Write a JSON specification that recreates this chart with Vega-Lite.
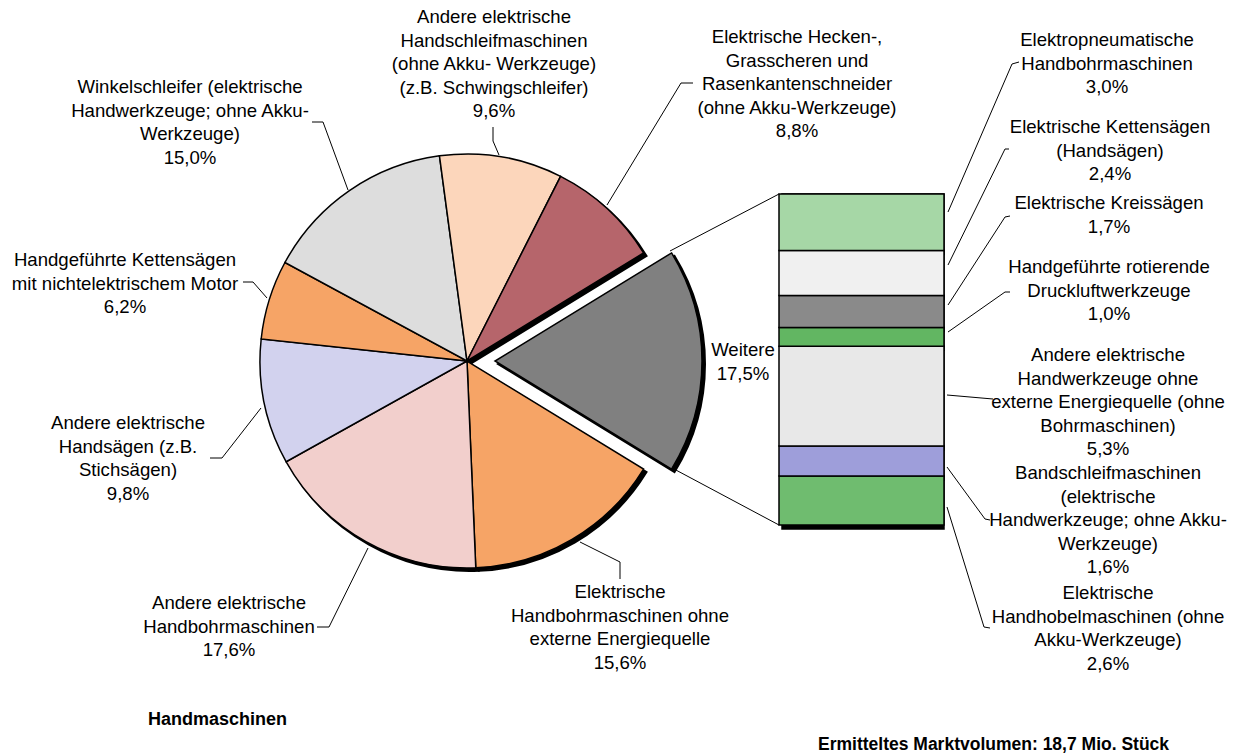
{
  "$schema": "https://vega.github.io/schema/vega-lite/v6.json",
  "width": 1241,
  "height": 755,
  "padding": 0,
  "autosize": {"type": "fit", "contains": "padding"},
  "background": "white",
  "config": {
    "view": {"stroke": null},
    "font": "Liberation Sans",
    "text": {"font": "Liberation Sans", "fontSize": 18.6, "lineHeight": 23.5, "lineBreak": "\n", "align": "center", "baseline": "middle", "color": "black"},
    "rule": {"color": "black", "strokeWidth": 1},
    "arc": {"stroke": "black", "strokeWidth": 1.5}
  },
  "datasets": {
    "pie": [
      {"id": "p1", "name": "Weitere", "value": 17.5, "order": 1, "label": "Weitere\n17,5%"},
      {"id": "p2", "name": "Elektrische Handbohrmaschinen ohne externe Energiequelle", "value": 15.6, "order": 2, "label": "Elektrische\nHandbohrmaschinen ohne\nexterne Energiequelle\n15,6%"},
      {"id": "p3", "name": "Andere elektrische Handbohrmaschinen", "value": 17.6, "order": 3, "label": "Andere elektrische\nHandbohrmaschinen\n17,6%"},
      {"id": "p4", "name": "Andere elektrische Handsägen (z.B. Stichsägen)", "value": 9.8, "order": 4, "label": "Andere elektrische\nHandsägen (z.B.\nStichsägen)\n9,8%"},
      {"id": "p5", "name": "Handgeführte Kettensägen mit nichtelektrischem Motor", "value": 6.2, "order": 5, "label": "Handgeführte Kettensägen\nmit nichtelektrischem Motor\n6,2%"},
      {"id": "p6", "name": "Winkelschleifer (elektrische Handwerkzeuge; ohne Akku-Werkzeuge)", "value": 15.0, "order": 6, "label": "Winkelschleifer (elektrische\nHandwerkzeuge; ohne Akku-\nWerkzeuge)\n15,0%"},
      {"id": "p7", "name": "Andere elektrische Handschleifmaschinen (ohne Akku- Werkzeuge) (z.B. Schwingschleifer)", "value": 9.6, "order": 7, "label": "Andere elektrische\nHandschleifmaschinen\n(ohne Akku- Werkzeuge)\n(z.B. Schwingschleifer)\n9,6%"},
      {"id": "p8", "name": "Elektrische Hecken-, Grasscheren und Rasenkantenschneider (ohne Akku-Werkzeuge)", "value": 8.8, "order": 8, "label": "Elektrische Hecken-,\nGrasscheren und\nRasenkantenschneider\n(ohne Akku-Werkzeuge)\n8,8%"}
    ],
    "bar": [
      {"id": "b1", "name": "Elektrische Handhobelmaschinen (ohne Akku-Werkzeuge)", "value": 2.6, "order": 1, "label": "Elektrische\nHandhobelmaschinen (ohne\nAkku-Werkzeuge)\n2,6%"},
      {"id": "b2", "name": "Bandschleifmaschinen (elektrische Handwerkzeuge; ohne Akku-Werkzeuge)", "value": 1.6, "order": 2, "label": "Bandschleifmaschinen\n(elektrische\nHandwerkzeuge; ohne Akku-\nWerkzeuge)\n1,6%"},
      {"id": "b3", "name": "Andere elektrische Handwerkzeuge ohne externe Energiequelle (ohne Bohrmaschinen)", "value": 5.3, "order": 3, "label": "Andere elektrische\nHandwerkzeuge ohne\nexterne Energiequelle (ohne\nBohrmaschinen)\n5,3%"},
      {"id": "b4", "name": "Handgeführte rotierende Druckluftwerkzeuge", "value": 1.0, "order": 4, "label": "Handgeführte rotierende\nDruckluftwerkzeuge\n1,0%"},
      {"id": "b5", "name": "Elektrische Kreissägen", "value": 1.7, "order": 5, "label": "Elektrische Kreissägen\n1,7%"},
      {"id": "b6", "name": "Elektrische Kettensägen (Handsägen)", "value": 2.4, "order": 6, "label": "Elektrische Kettensägen\n(Handsägen)\n2,4%"},
      {"id": "b7", "name": "Elektropneumatische Handbohrmaschinen", "value": 3.0, "order": 7, "label": "Elektropneumatische\nHandbohrmaschinen\n3,0%"}
    ]
  },
  "resolve": {"scale": {"y": "independent", "color": "independent"}},
  "layer": [
    {
      "data": {"values": [{}]},
      "layer": [
        {
          "data": {"name": "pie"},
          "transform": [
            {"stack": "value", "groupby": [], "sort": [{"field": "order", "order": "ascending"}], "as": ["t0", "t1"]},
            {"filter": "datum.id !== 'p1'"}
          ],
          "mark": {"type": "arc", "outerRadius": 207, "fill": "black", "stroke": "black", "strokeWidth": 2},
          "encoding": {
            "theta": {"field": "t0", "type": "quantitative", "scale": {"domain": [0, 100.1], "range": [1.02155, 7.30474]}},
            "theta2": {"field": "t1"},
            "x": {"datum": 470, "type": "quantitative", "scale": {"domain": [0, 1241], "nice": false, "zero": false}, "axis": null},
            "y": {"datum": 364, "type": "quantitative", "scale": {"domain": [0, 755], "nice": false, "zero": false, "reverse": true}, "axis": null}
          }
        },
        {
          "data": {"name": "pie"},
          "transform": [
            {"stack": "value", "groupby": [], "sort": [{"field": "order", "order": "ascending"}], "as": ["t0", "t1"]},
            {"filter": "datum.id !== 'p1'"}
          ],
          "mark": {"type": "arc", "outerRadius": 207},
          "encoding": {
            "theta": {"field": "t0", "type": "quantitative", "scale": {"domain": [0, 100.1], "range": [1.02155, 7.30474]}},
            "theta2": {"field": "t1"},
            "x": {"datum": 467, "type": "quantitative", "scale": {"domain": [0, 1241], "nice": false, "zero": false}, "axis": null},
            "y": {"datum": 361, "type": "quantitative", "scale": {"domain": [0, 755], "nice": false, "zero": false, "reverse": true}, "axis": null},
            "color": {"field": "id", "type": "nominal", "legend": null, "scale": {"domain": ["p1", "p2", "p3", "p4", "p5", "p6", "p7", "p8"], "range": ["#808080", "#F6A466", "#F2CFCC", "#D2D2EE", "#F6A466", "#DDDDDD", "#FCD6BB", "#B6656B"]}}
          }
        },
        {
          "data": {"name": "pie"},
          "transform": [
            {"stack": "value", "groupby": [], "sort": [{"field": "order", "order": "ascending"}], "as": ["t0", "t1"]},
            {"filter": "datum.id === 'p1'"}
          ],
          "mark": {"type": "arc", "outerRadius": 207, "fill": "black", "stroke": "black", "strokeWidth": 2},
          "encoding": {
            "theta": {"field": "t0", "type": "quantitative", "scale": {"domain": [0, 100.1], "range": [1.02155, 7.30474]}},
            "theta2": {"field": "t1"},
            "x": {"datum": 498, "type": "quantitative", "scale": {"domain": [0, 1241], "nice": false, "zero": false}, "axis": null},
            "y": {"datum": 364, "type": "quantitative", "scale": {"domain": [0, 755], "nice": false, "zero": false, "reverse": true}, "axis": null}
          }
        },
        {
          "data": {"name": "pie"},
          "transform": [
            {"stack": "value", "groupby": [], "sort": [{"field": "order", "order": "ascending"}], "as": ["t0", "t1"]},
            {"filter": "datum.id === 'p1'"}
          ],
          "mark": {"type": "arc", "outerRadius": 207, "fill": "#808080"},
          "encoding": {
            "theta": {"field": "t0", "type": "quantitative", "scale": {"domain": [0, 100.1], "range": [1.02155, 7.30474]}},
            "theta2": {"field": "t1"},
            "x": {"datum": 495, "type": "quantitative", "scale": {"domain": [0, 1241], "nice": false, "zero": false}, "axis": null},
            "y": {"datum": 361, "type": "quantitative", "scale": {"domain": [0, 755], "nice": false, "zero": false, "reverse": true}, "axis": null}
          }
        },
        {
          "layer": [
            {"mark": "rule", "encoding": {"x": {"datum": 670, "type": "quantitative", "scale": {"domain": [0, 1241], "nice": false, "zero": false}, "axis": null}, "y": {"datum": 251, "type": "quantitative", "scale": {"domain": [0, 755], "nice": false, "zero": false, "reverse": true}, "axis": null}, "x2": {"datum": 779}, "y2": {"datum": 194}}},
            {"mark": "rule", "encoding": {"x": {"datum": 674, "type": "quantitative", "scale": {"domain": [0, 1241], "nice": false, "zero": false}, "axis": null}, "y": {"datum": 469, "type": "quantitative", "scale": {"domain": [0, 755], "nice": false, "zero": false, "reverse": true}, "axis": null}, "x2": {"datum": 779}, "y2": {"datum": 525}}},
            {"mark": "rule", "encoding": {"x": {"datum": 312, "type": "quantitative", "scale": {"domain": [0, 1241], "nice": false, "zero": false}, "axis": null}, "y": {"datum": 122, "type": "quantitative", "scale": {"domain": [0, 755], "nice": false, "zero": false, "reverse": true}, "axis": null}, "x2": {"datum": 323}, "y2": {"datum": 122}}},
            {"mark": "rule", "encoding": {"x": {"datum": 323, "type": "quantitative", "scale": {"domain": [0, 1241], "nice": false, "zero": false}, "axis": null}, "y": {"datum": 122, "type": "quantitative", "scale": {"domain": [0, 755], "nice": false, "zero": false, "reverse": true}, "axis": null}, "x2": {"datum": 348}, "y2": {"datum": 190}}},
            {"mark": "rule", "encoding": {"x": {"datum": 493, "type": "quantitative", "scale": {"domain": [0, 1241], "nice": false, "zero": false}, "axis": null}, "y": {"datum": 127, "type": "quantitative", "scale": {"domain": [0, 755], "nice": false, "zero": false, "reverse": true}, "axis": null}, "x2": {"datum": 493}, "y2": {"datum": 141}}},
            {"mark": "rule", "encoding": {"x": {"datum": 493, "type": "quantitative", "scale": {"domain": [0, 1241], "nice": false, "zero": false}, "axis": null}, "y": {"datum": 141, "type": "quantitative", "scale": {"domain": [0, 755], "nice": false, "zero": false, "reverse": true}, "axis": null}, "x2": {"datum": 499}, "y2": {"datum": 155}}},
            {"mark": "rule", "encoding": {"x": {"datum": 693, "type": "quantitative", "scale": {"domain": [0, 1241], "nice": false, "zero": false}, "axis": null}, "y": {"datum": 83, "type": "quantitative", "scale": {"domain": [0, 755], "nice": false, "zero": false, "reverse": true}, "axis": null}, "x2": {"datum": 681}, "y2": {"datum": 83}}},
            {"mark": "rule", "encoding": {"x": {"datum": 681, "type": "quantitative", "scale": {"domain": [0, 1241], "nice": false, "zero": false}, "axis": null}, "y": {"datum": 83, "type": "quantitative", "scale": {"domain": [0, 755], "nice": false, "zero": false, "reverse": true}, "axis": null}, "x2": {"datum": 607}, "y2": {"datum": 205}}},
            {"mark": "rule", "encoding": {"x": {"datum": 243, "type": "quantitative", "scale": {"domain": [0, 1241], "nice": false, "zero": false}, "axis": null}, "y": {"datum": 282, "type": "quantitative", "scale": {"domain": [0, 755], "nice": false, "zero": false, "reverse": true}, "axis": null}, "x2": {"datum": 253}, "y2": {"datum": 282}}},
            {"mark": "rule", "encoding": {"x": {"datum": 253, "type": "quantitative", "scale": {"domain": [0, 1241], "nice": false, "zero": false}, "axis": null}, "y": {"datum": 282, "type": "quantitative", "scale": {"domain": [0, 755], "nice": false, "zero": false, "reverse": true}, "axis": null}, "x2": {"datum": 267}, "y2": {"datum": 298}}},
            {"mark": "rule", "encoding": {"x": {"datum": 210, "type": "quantitative", "scale": {"domain": [0, 1241], "nice": false, "zero": false}, "axis": null}, "y": {"datum": 458, "type": "quantitative", "scale": {"domain": [0, 755], "nice": false, "zero": false, "reverse": true}, "axis": null}, "x2": {"datum": 222}, "y2": {"datum": 458}}},
            {"mark": "rule", "encoding": {"x": {"datum": 222, "type": "quantitative", "scale": {"domain": [0, 1241], "nice": false, "zero": false}, "axis": null}, "y": {"datum": 458, "type": "quantitative", "scale": {"domain": [0, 755], "nice": false, "zero": false, "reverse": true}, "axis": null}, "x2": {"datum": 261}, "y2": {"datum": 408}}},
            {"mark": "rule", "encoding": {"x": {"datum": 317, "type": "quantitative", "scale": {"domain": [0, 1241], "nice": false, "zero": false}, "axis": null}, "y": {"datum": 627, "type": "quantitative", "scale": {"domain": [0, 755], "nice": false, "zero": false, "reverse": true}, "axis": null}, "x2": {"datum": 329}, "y2": {"datum": 627}}},
            {"mark": "rule", "encoding": {"x": {"datum": 329, "type": "quantitative", "scale": {"domain": [0, 1241], "nice": false, "zero": false}, "axis": null}, "y": {"datum": 627, "type": "quantitative", "scale": {"domain": [0, 755], "nice": false, "zero": false, "reverse": true}, "axis": null}, "x2": {"datum": 368}, "y2": {"datum": 548}}},
            {"mark": "rule", "encoding": {"x": {"datum": 580, "type": "quantitative", "scale": {"domain": [0, 1241], "nice": false, "zero": false}, "axis": null}, "y": {"datum": 542, "type": "quantitative", "scale": {"domain": [0, 755], "nice": false, "zero": false, "reverse": true}, "axis": null}, "x2": {"datum": 620}, "y2": {"datum": 562}}},
            {"mark": "rule", "encoding": {"x": {"datum": 620, "type": "quantitative", "scale": {"domain": [0, 1241], "nice": false, "zero": false}, "axis": null}, "y": {"datum": 562, "type": "quantitative", "scale": {"domain": [0, 755], "nice": false, "zero": false, "reverse": true}, "axis": null}, "x2": {"datum": 620}, "y2": {"datum": 579}}},
            {"mark": "rule", "encoding": {"x": {"datum": 948, "type": "quantitative", "scale": {"domain": [0, 1241], "nice": false, "zero": false}, "axis": null}, "y": {"datum": 212, "type": "quantitative", "scale": {"domain": [0, 755], "nice": false, "zero": false, "reverse": true}, "axis": null}, "x2": {"datum": 1012}, "y2": {"datum": 64}}},
            {"mark": "rule", "encoding": {"x": {"datum": 1012, "type": "quantitative", "scale": {"domain": [0, 1241], "nice": false, "zero": false}, "axis": null}, "y": {"datum": 64, "type": "quantitative", "scale": {"domain": [0, 755], "nice": false, "zero": false, "reverse": true}, "axis": null}, "x2": {"datum": 1019}, "y2": {"datum": 62}}},
            {"mark": "rule", "encoding": {"x": {"datum": 948, "type": "quantitative", "scale": {"domain": [0, 1241], "nice": false, "zero": false}, "axis": null}, "y": {"datum": 265, "type": "quantitative", "scale": {"domain": [0, 755], "nice": false, "zero": false, "reverse": true}, "axis": null}, "x2": {"datum": 1005}, "y2": {"datum": 149}}},
            {"mark": "rule", "encoding": {"x": {"datum": 1005, "type": "quantitative", "scale": {"domain": [0, 1241], "nice": false, "zero": false}, "axis": null}, "y": {"datum": 149, "type": "quantitative", "scale": {"domain": [0, 755], "nice": false, "zero": false, "reverse": true}, "axis": null}, "x2": {"datum": 1009}, "y2": {"datum": 149}}},
            {"mark": "rule", "encoding": {"x": {"datum": 948, "type": "quantitative", "scale": {"domain": [0, 1241], "nice": false, "zero": false}, "axis": null}, "y": {"datum": 305, "type": "quantitative", "scale": {"domain": [0, 755], "nice": false, "zero": false, "reverse": true}, "axis": null}, "x2": {"datum": 1005}, "y2": {"datum": 217}}},
            {"mark": "rule", "encoding": {"x": {"datum": 1005, "type": "quantitative", "scale": {"domain": [0, 1241], "nice": false, "zero": false}, "axis": null}, "y": {"datum": 217, "type": "quantitative", "scale": {"domain": [0, 755], "nice": false, "zero": false, "reverse": true}, "axis": null}, "x2": {"datum": 1010}, "y2": {"datum": 216}}},
            {"mark": "rule", "encoding": {"x": {"datum": 948, "type": "quantitative", "scale": {"domain": [0, 1241], "nice": false, "zero": false}, "axis": null}, "y": {"datum": 332, "type": "quantitative", "scale": {"domain": [0, 755], "nice": false, "zero": false, "reverse": true}, "axis": null}, "x2": {"datum": 1005}, "y2": {"datum": 292}}},
            {"mark": "rule", "encoding": {"x": {"datum": 1005, "type": "quantitative", "scale": {"domain": [0, 1241], "nice": false, "zero": false}, "axis": null}, "y": {"datum": 292, "type": "quantitative", "scale": {"domain": [0, 755], "nice": false, "zero": false, "reverse": true}, "axis": null}, "x2": {"datum": 1010}, "y2": {"datum": 292}}},
            {"mark": "rule", "encoding": {"x": {"datum": 947, "type": "quantitative", "scale": {"domain": [0, 1241], "nice": false, "zero": false}, "axis": null}, "y": {"datum": 395, "type": "quantitative", "scale": {"domain": [0, 755], "nice": false, "zero": false, "reverse": true}, "axis": null}, "x2": {"datum": 993}, "y2": {"datum": 399}}},
            {"mark": "rule", "encoding": {"x": {"datum": 947, "type": "quantitative", "scale": {"domain": [0, 1241], "nice": false, "zero": false}, "axis": null}, "y": {"datum": 467, "type": "quantitative", "scale": {"domain": [0, 755], "nice": false, "zero": false, "reverse": true}, "axis": null}, "x2": {"datum": 985}, "y2": {"datum": 519}}},
            {"mark": "rule", "encoding": {"x": {"datum": 985, "type": "quantitative", "scale": {"domain": [0, 1241], "nice": false, "zero": false}, "axis": null}, "y": {"datum": 519, "type": "quantitative", "scale": {"domain": [0, 755], "nice": false, "zero": false, "reverse": true}, "axis": null}, "x2": {"datum": 990}, "y2": {"datum": 520}}},
            {"mark": "rule", "encoding": {"x": {"datum": 947, "type": "quantitative", "scale": {"domain": [0, 1241], "nice": false, "zero": false}, "axis": null}, "y": {"datum": 507, "type": "quantitative", "scale": {"domain": [0, 755], "nice": false, "zero": false, "reverse": true}, "axis": null}, "x2": {"datum": 984}, "y2": {"datum": 627}}},
            {"mark": "rule", "encoding": {"x": {"datum": 984, "type": "quantitative", "scale": {"domain": [0, 1241], "nice": false, "zero": false}, "axis": null}, "y": {"datum": 627, "type": "quantitative", "scale": {"domain": [0, 755], "nice": false, "zero": false, "reverse": true}, "axis": null}, "x2": {"datum": 990}, "y2": {"datum": 628}}}
          ]
        },
        {"data": {"name": "pie"}, "transform": [{"filter": "datum.id === 'p1'"}], "mark": "text", "encoding": {"x": {"datum": 743, "type": "quantitative", "scale": {"domain": [0, 1241], "nice": false, "zero": false}, "axis": null}, "y": {"datum": 350, "type": "quantitative", "scale": {"domain": [0, 755], "nice": false, "zero": false, "reverse": true}, "axis": null}, "text": {"field": "label"}}},
        {"data": {"name": "pie"}, "transform": [{"filter": "datum.id === 'p2'"}], "mark": "text", "encoding": {"x": {"datum": 620, "type": "quantitative", "scale": {"domain": [0, 1241], "nice": false, "zero": false}, "axis": null}, "y": {"datum": 592, "type": "quantitative", "scale": {"domain": [0, 755], "nice": false, "zero": false, "reverse": true}, "axis": null}, "text": {"field": "label"}}},
        {"data": {"name": "pie"}, "transform": [{"filter": "datum.id === 'p3'"}], "mark": "text", "encoding": {"x": {"datum": 229, "type": "quantitative", "scale": {"domain": [0, 1241], "nice": false, "zero": false}, "axis": null}, "y": {"datum": 603, "type": "quantitative", "scale": {"domain": [0, 755], "nice": false, "zero": false, "reverse": true}, "axis": null}, "text": {"field": "label"}}},
        {"data": {"name": "pie"}, "transform": [{"filter": "datum.id === 'p4'"}], "mark": "text", "encoding": {"x": {"datum": 128, "type": "quantitative", "scale": {"domain": [0, 1241], "nice": false, "zero": false}, "axis": null}, "y": {"datum": 423, "type": "quantitative", "scale": {"domain": [0, 755], "nice": false, "zero": false, "reverse": true}, "axis": null}, "text": {"field": "label"}}},
        {"data": {"name": "pie"}, "transform": [{"filter": "datum.id === 'p5'"}], "mark": "text", "encoding": {"x": {"datum": 125, "type": "quantitative", "scale": {"domain": [0, 1241], "nice": false, "zero": false}, "axis": null}, "y": {"datum": 260, "type": "quantitative", "scale": {"domain": [0, 755], "nice": false, "zero": false, "reverse": true}, "axis": null}, "text": {"field": "label"}}},
        {"data": {"name": "pie"}, "transform": [{"filter": "datum.id === 'p6'"}], "mark": "text", "encoding": {"x": {"datum": 190, "type": "quantitative", "scale": {"domain": [0, 1241], "nice": false, "zero": false}, "axis": null}, "y": {"datum": 87, "type": "quantitative", "scale": {"domain": [0, 755], "nice": false, "zero": false, "reverse": true}, "axis": null}, "text": {"field": "label"}}},
        {"data": {"name": "pie"}, "transform": [{"filter": "datum.id === 'p7'"}], "mark": "text", "encoding": {"x": {"datum": 494, "type": "quantitative", "scale": {"domain": [0, 1241], "nice": false, "zero": false}, "axis": null}, "y": {"datum": 17, "type": "quantitative", "scale": {"domain": [0, 755], "nice": false, "zero": false, "reverse": true}, "axis": null}, "text": {"field": "label"}}},
        {"data": {"name": "pie"}, "transform": [{"filter": "datum.id === 'p8'"}], "mark": "text", "encoding": {"x": {"datum": 797, "type": "quantitative", "scale": {"domain": [0, 1241], "nice": false, "zero": false}, "axis": null}, "y": {"datum": 37, "type": "quantitative", "scale": {"domain": [0, 755], "nice": false, "zero": false, "reverse": true}, "axis": null}, "text": {"field": "label"}}},
        {"data": {"name": "bar"}, "transform": [{"filter": "datum.id === 'b7'"}], "mark": "text", "encoding": {"x": {"datum": 1107, "type": "quantitative", "scale": {"domain": [0, 1241], "nice": false, "zero": false}, "axis": null}, "y": {"datum": 40, "type": "quantitative", "scale": {"domain": [0, 755], "nice": false, "zero": false, "reverse": true}, "axis": null}, "text": {"field": "label"}}},
        {"data": {"name": "bar"}, "transform": [{"filter": "datum.id === 'b6'"}], "mark": "text", "encoding": {"x": {"datum": 1110, "type": "quantitative", "scale": {"domain": [0, 1241], "nice": false, "zero": false}, "axis": null}, "y": {"datum": 127, "type": "quantitative", "scale": {"domain": [0, 755], "nice": false, "zero": false, "reverse": true}, "axis": null}, "text": {"field": "label"}}},
        {"data": {"name": "bar"}, "transform": [{"filter": "datum.id === 'b5'"}], "mark": "text", "encoding": {"x": {"datum": 1109, "type": "quantitative", "scale": {"domain": [0, 1241], "nice": false, "zero": false}, "axis": null}, "y": {"datum": 203, "type": "quantitative", "scale": {"domain": [0, 755], "nice": false, "zero": false, "reverse": true}, "axis": null}, "text": {"field": "label"}}},
        {"data": {"name": "bar"}, "transform": [{"filter": "datum.id === 'b4'"}], "mark": "text", "encoding": {"x": {"datum": 1109, "type": "quantitative", "scale": {"domain": [0, 1241], "nice": false, "zero": false}, "axis": null}, "y": {"datum": 267, "type": "quantitative", "scale": {"domain": [0, 755], "nice": false, "zero": false, "reverse": true}, "axis": null}, "text": {"field": "label"}}},
        {"data": {"name": "bar"}, "transform": [{"filter": "datum.id === 'b3'"}], "mark": "text", "encoding": {"x": {"datum": 1108, "type": "quantitative", "scale": {"domain": [0, 1241], "nice": false, "zero": false}, "axis": null}, "y": {"datum": 355, "type": "quantitative", "scale": {"domain": [0, 755], "nice": false, "zero": false, "reverse": true}, "axis": null}, "text": {"field": "label"}}},
        {"data": {"name": "bar"}, "transform": [{"filter": "datum.id === 'b2'"}], "mark": "text", "encoding": {"x": {"datum": 1108, "type": "quantitative", "scale": {"domain": [0, 1241], "nice": false, "zero": false}, "axis": null}, "y": {"datum": 473, "type": "quantitative", "scale": {"domain": [0, 755], "nice": false, "zero": false, "reverse": true}, "axis": null}, "text": {"field": "label"}}},
        {"data": {"name": "bar"}, "transform": [{"filter": "datum.id === 'b1'"}], "mark": "text", "encoding": {"x": {"datum": 1108, "type": "quantitative", "scale": {"domain": [0, 1241], "nice": false, "zero": false}, "axis": null}, "y": {"datum": 593, "type": "quantitative", "scale": {"domain": [0, 755], "nice": false, "zero": false, "reverse": true}, "axis": null}, "text": {"field": "label"}}},
        {"mark": {"type": "text", "fontWeight": "bold", "fontSize": 18, "align": "left"}, "encoding": {"x": {"datum": 148, "type": "quantitative", "scale": {"domain": [0, 1241], "nice": false, "zero": false}, "axis": null}, "y": {"datum": 720, "type": "quantitative", "scale": {"domain": [0, 755], "nice": false, "zero": false, "reverse": true}, "axis": null}, "text": {"value": "Handmaschinen"}}},
        {"mark": {"type": "text", "fontWeight": "bold", "fontSize": 17.5, "align": "left"}, "encoding": {"x": {"datum": 818, "type": "quantitative", "scale": {"domain": [0, 1241], "nice": false, "zero": false}, "axis": null}, "y": {"datum": 745, "type": "quantitative", "scale": {"domain": [0, 755], "nice": false, "zero": false, "reverse": true}, "axis": null}, "text": {"value": "Ermitteltes Marktvolumen: 18,7 Mio. Stück"}}}
      ]
    },
    {
      "data": {"name": "bar"},
      "transform": [
        {"stack": "value", "groupby": [], "sort": [{"field": "order", "order": "ascending"}], "as": ["y0", "y1"]}
      ],
      "layer": [
        {
          "mark": {"type": "rect", "fill": "black", "stroke": "black", "strokeWidth": 1.5, "xOffset": 3, "yOffset": 4},
          "encoding": {
            "x": {"datum": 779, "type": "quantitative", "scale": {"domain": [0, 1241], "nice": false, "zero": false}, "axis": null},
            "x2": {"datum": 944},
            "y": {"field": "y0", "type": "quantitative", "scale": {"domain": [-12.23, 27.915], "nice": false, "zero": false}, "axis": null},
            "y2": {"field": "y1"}
          }
        },
        {
          "mark": {"type": "rect", "stroke": "black", "strokeWidth": 1.5},
          "encoding": {
            "x": {"datum": 779, "type": "quantitative", "scale": {"domain": [0, 1241], "nice": false, "zero": false}, "axis": null},
            "x2": {"datum": 944},
            "y": {"field": "y0", "type": "quantitative", "scale": {"domain": [-12.23, 27.915], "nice": false, "zero": false}, "axis": null},
            "y2": {"field": "y1"},
            "color": {"field": "id", "type": "nominal", "legend": null, "scale": {"domain": ["b1", "b2", "b3", "b4", "b5", "b6", "b7"], "range": ["#6FBC6F", "#9E9EDA", "#E8E8E8", "#62B662", "#8A8A8A", "#F0F0F0", "#A6D7A6"]}}
          }
        }
      ]
    }
  ]
}
